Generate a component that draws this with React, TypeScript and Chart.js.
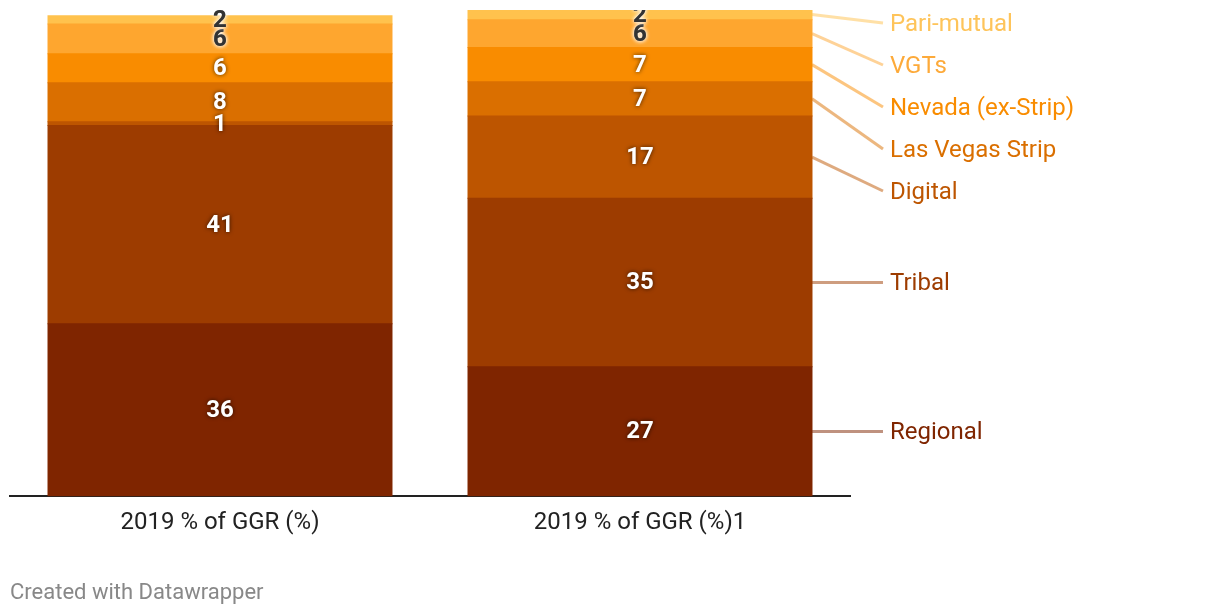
import React, { useEffect, useRef } from "react";
import { Chart, registerables } from "chart.js";

Chart.register(...registerables);

const categories = ["2019 % of GGR (%)", "2019 % of GGR (%)1"];
const seriesNames = [
  "Regional",
  "Tribal",
  "Digital",
  "Las Vegas Strip",
  "Nevada (ex-Strip)",
  "VGTs",
  "Pari-mutual",
];
const regional = [35.8, 26.9];
const tribal = [41.2, 35.0];
const digital = [0.8, 17.1];
const lvStrip = [8.1, 7.1];
const nevada = [6.0, 7.1];
const vgts = [6.2, 5.8];
const pariMutual = [1.7, 2.1];
const seriesValues = [regional, tribal, digital, lvStrip, nevada, vgts, pariMutual];

const seriesColors = [
  "#7f2500",
  "#9d3c00",
  "#bd5500",
  "#da6f00",
  "#f98c00",
  "#fea62f",
  "#ffc24d",
];
const labelColors = [
  "#7f2500",
  "#9d3c00",
  "#bd5500",
  "#da6f00",
  "#f98c00",
  "#fdaa3a",
  "#fec45a",
];

const FONT = "Roboto, 'Noto Sans', sans-serif";

function hexToRgba(hex: string, a: number) {
  const n = parseInt(hex.slice(1), 16);
  return `rgba(${(n >> 16) & 255},${(n >> 8) & 255},${n & 255},${a})`;
}

export default function App() {
  const ref = useRef<HTMLCanvasElement>(null);

  useEffect(() => {
    document.body.style.margin = "0";
    if (!ref.current) return;

    const dwPlugin = {
      id: "dwLabels",
      afterDatasetsDraw(chart: any) {
        const ctx = chart.ctx as CanvasRenderingContext2D;
        const area = chart.chartArea;
        // value labels inside segments
        ctx.save();
        ctx.beginPath();
        ctx.rect(area.left, area.top, area.right - area.left, area.bottom - area.top);
        ctx.clip();
        ctx.font = `bold 24px ${FONT}`;
        ctx.textAlign = "center";
        ctx.textBaseline = "middle";
        chart.data.datasets.forEach((ds: any, i: number) => {
          const meta = chart.getDatasetMeta(i);
          meta.data.forEach((bar: any, j: number) => {
            const p = bar.getProps(["x", "y", "base"], true);
            const y = (p.y + p.base) / 2;
            const txt = String(Math.round(ds.data[j]));
            const light = i >= 5;
            ctx.shadowColor = light ? "rgba(255,255,255,1)" : "rgba(0,0,0,0.7)";
            ctx.shadowBlur = 4;
            ctx.fillStyle = light ? "#333333" : "#ffffff";
            ctx.fillText(txt, p.x, y + 1);
            if (light) ctx.fillText(txt, p.x, y + 1);
          });
        });
        ctx.restore();

        // right-hand direct labels with connector lines (from last bar)
        const n = chart.data.datasets.length;
        const items: { i: number; mid: number; right: number }[] = [];
        for (let i = 0; i < n; i++) {
          const meta = chart.getDatasetMeta(i);
          const bar = meta.data[meta.data.length - 1];
          const p = bar.getProps(["x", "y", "base", "width"], true);
          items.push({ i, mid: (p.y + p.base) / 2, right: p.x + p.width / 2 });
        }
        items.sort((a, b) => a.mid - b.mid);
        const gap = 42;
        const minY = area.top + 13;
        let prev = -Infinity;
        const placed = items.map((it) => {
          const y = Math.max(it.mid, prev + gap, minY);
          prev = y;
          return { ...it, ly: y };
        });
        ctx.save();
        placed.forEach((it) => {
          ctx.strokeStyle = hexToRgba(seriesColors[it.i], 0.5);
          ctx.lineWidth = 3;
          ctx.beginPath();
          ctx.moveTo(it.right, it.mid);
          ctx.lineTo(it.right + 71, it.ly);
          ctx.stroke();
          ctx.font = `24px ${FONT}`;
          ctx.textAlign = "left";
          ctx.textBaseline = "middle";
          ctx.fillStyle = labelColors[it.i];
          ctx.fillText(chart.data.datasets[it.i].label, it.right + 78, it.ly + 2);
        });
        ctx.restore();
      },
    };

    const chart = new Chart(ref.current, {
      type: "bar",
      data: {
        labels: categories,
        datasets: seriesNames.map((name, i) => ({
          label: name,
          data: seriesValues[i],
          backgroundColor: seriesColors[i],
          borderWidth: 0,
          inflateAmount: 0.5,
          barPercentage: 0.819,
          categoryPercentage: 1,
        })),
      },
      options: {
        responsive: false,
        animation: false,
        layout: { padding: { left: 10, right: 370, top: 10, bottom: 75 } },
        plugins: {
          legend: { display: false },
          tooltip: { enabled: false },
        },
        scales: {
          x: {
            stacked: true,
            grid: { display: false },
            border: { display: true, color: "#222222", width: 2 },
            ticks: {
              color: "#222222",
              font: { family: FONT, size: 24 },
              padding: 4,
            },
          },
          y: {
            stacked: true,
            display: false,
            min: 0,
            max: 101,
          },
        },
      },
      plugins: [dwPlugin],
    });
    return () => chart.destroy();
  }, []);

  return (
    <div style={{ position: "relative", width: 1220, height: 616, background: "#fff" }}>
      <canvas ref={ref} width={1220} height={616} style={{ display: "block" }} />
      <div
        style={{
          position: "absolute",
          left: 10,
          top: 579,
          fontFamily: FONT,
          fontSize: 22,
          color: "#888888",
          lineHeight: "26px",
        }}
      >
        Created with Datawrapper
      </div>
    </div>
  );
}
